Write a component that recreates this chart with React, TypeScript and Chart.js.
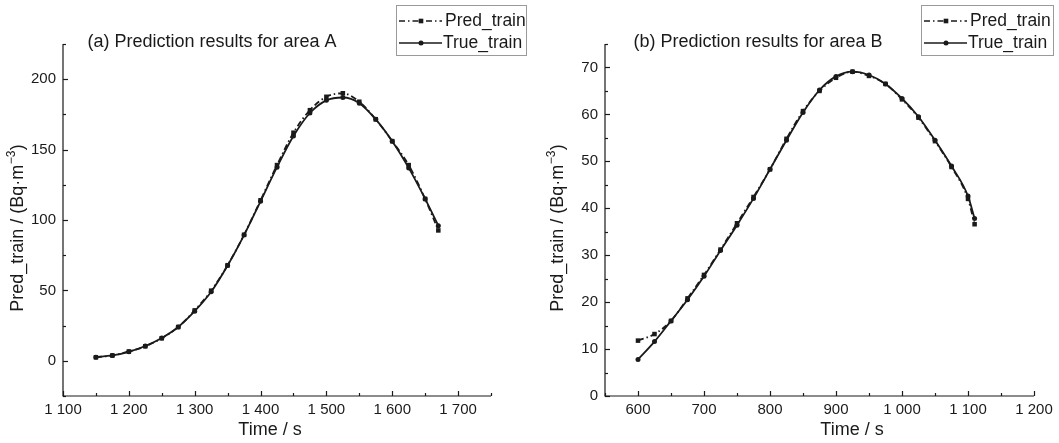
import React, { useEffect, useRef } from 'react';
import { Chart, registerables } from 'chart.js';

Chart.register(...registerables);

// ---------- data ----------
const timeA = [1150, 1175, 1200, 1225, 1250, 1275, 1300, 1325, 1350, 1375, 1400, 1425, 1450, 1475, 1500, 1525, 1550, 1575, 1600, 1625, 1650, 1670];
const predA = [2.5, 3.8, 6.6, 10.3, 16, 24, 35.8, 49.8, 67.9, 89.5, 114, 139, 162, 178, 187.5, 190, 184, 171.5, 156, 139, 115, 92.6];
const trueA = [2.6, 3.8, 6.4, 10.5, 16.2, 24, 35.2, 49, 67.7, 89.3, 113.3, 137.5, 159.6, 176, 185, 187, 183, 171.5, 156, 137, 115, 96];

const timeB = [600, 625, 650, 675, 700, 725, 750, 775, 800, 825, 850, 875, 900, 925, 950, 975, 1000, 1025, 1050, 1075, 1100, 1110];
const predB = [11.8, 13.2, 16, 20.8, 25.8, 31.2, 36.8, 42.4, 48.3, 54.8, 60.7, 65.0, 67.8, 69.1, 68.2, 66.5, 63.2, 59.3, 54.3, 48.8, 42, 36.6];
const trueB = [7.8, 11.6, 16, 20.5, 25.5, 31, 36.4, 42.1, 48.3, 54.5, 60.4, 65.2, 68.1, 69.1, 68.4, 66.5, 63.4, 59.5, 54.5, 49, 42.6, 37.8];

// tick labels
const xTicksA = [1100, 1200, 1300, 1400, 1500, 1600, 1700];
const yTicksA = [0, 50, 100, 150, 200];
const xTicksB = [600, 700, 800, 900, 1000, 1100, 1200];
const yTicksB = [0, 10, 20, 30, 40, 50, 60, 70];

const seriesNames = ['Pred_train', 'True_train'];
const titleA = '(a) Prediction results for area A';
const titleB = '(b) Prediction results for area B';
const xTitle = 'Time / s';
const yTitleMain = 'Pred_train / (Bq·m';
const yTitleSup = '−3';
const yTitleEnd = ')';

const FONT = '"Liberation Sans", Arial, Helvetica, sans-serif';
const INK = '#1a1a1a';

function fmt(v: number): string {
  const s = String(Math.round(v));
  return s.length > 3 ? s.slice(0, s.length - 3) + ' ' + s.slice(-3) : s;
}

function drawMarker(ctx: CanvasRenderingContext2D, kind: string, x: number, y: number) {
  ctx.fillStyle = INK;
  if (kind === 'rect') {
    ctx.fillRect(x - 2.3, y - 2.3, 4.6, 4.6);
  } else {
    ctx.beginPath();
    ctx.arc(x, y, 2.5, 0, Math.PI * 2);
    ctx.fill();
  }
}

const panelPlugin = {
  id: 'panel',
  afterDraw(chart: any, _args: any, o: any) {
    const ctx: CanvasRenderingContext2D = chart.ctx;
    const { left, right, top, bottom } = chart.chartArea;
    const xs = chart.scales.x;
    const ys = chart.scales.y;
    ctx.save();
    ctx.strokeStyle = INK;
    ctx.lineWidth = 1.2;
    ctx.setLineDash([]);
    // axis lines
    ctx.beginPath();
    ctx.moveTo(left, top);
    ctx.lineTo(left, bottom);
    ctx.lineTo(right, bottom);
    ctx.stroke();
    // inward ticks
    for (let v = xs.min; v <= xs.max + 1e-9; v += o.xMinor) {
      const px = Math.round(xs.getPixelForValue(v)) + 0.5;
      const major = Math.abs(v % o.xMajor) < 1e-6;
      const len = major ? 5 : 3;
      ctx.beginPath();
      ctx.moveTo(px, bottom);
      ctx.lineTo(px, bottom - len);
      ctx.stroke();
    }
    for (let v = ys.min; v <= ys.max + 1e-9; v += o.yMinor) {
      const py = Math.round(ys.getPixelForValue(v)) + 0.5;
      const major = Math.abs(v % o.yMajor) < 1e-6;
      const len = major ? 5 : 3;
      ctx.beginPath();
      ctx.moveTo(left, py);
      ctx.lineTo(left + len, py);
      ctx.stroke();
    }
    // title
    ctx.fillStyle = INK;
    ctx.font = `18px ${FONT}`;
    ctx.textAlign = 'center';
    ctx.textBaseline = 'middle';
    ctx.fillText(o.title, o.titleX, o.titleY);
    // x title
    ctx.fillText(xTitle, o.xTitleX, o.xTitleY);
    // y title (rotated, with superscript)
    ctx.save();
    ctx.translate(o.yTitleX, o.yTitleY);
    ctx.rotate(-Math.PI / 2);
    ctx.textAlign = 'left';
    ctx.font = `18px ${FONT}`;
    const w1 = ctx.measureText(yTitleMain).width;
    const w3 = ctx.measureText(yTitleEnd).width;
    ctx.font = `12px ${FONT}`;
    const w2 = ctx.measureText(yTitleSup).width;
    const total = w1 + w2 + w3 + 1;
    let cx = -total / 2;
    ctx.font = `18px ${FONT}`;
    ctx.fillText(yTitleMain, cx, 0);
    cx += w1 + 0.5;
    ctx.font = `12px ${FONT}`;
    ctx.fillText(yTitleSup, cx, -6);
    cx += w2 + 0.5;
    ctx.font = `18px ${FONT}`;
    ctx.fillText(yTitleEnd, cx, 0);
    ctx.restore();
    // legend
    const L = o.legend;
    ctx.strokeStyle = '#9a9a9a';
    ctx.lineWidth = 1;
    ctx.strokeRect(L.x + 0.5, L.y + 0.5, L.w, L.h);
    const rows = [L.y + 16, L.y + 38];
    const sx0 = L.x + 3;
    const sx1 = L.x + 46;
    const mx = L.x + 25;
    ctx.strokeStyle = INK;
    ctx.lineWidth = 1.6;
    // Pred row
    ctx.setLineDash([6, 3, 1.5, 3]);
    ctx.beginPath();
    ctx.moveTo(sx0, rows[0]);
    ctx.lineTo(sx1, rows[0]);
    ctx.stroke();
    ctx.setLineDash([]);
    drawMarker(ctx, 'rect', mx, rows[0]);
    // True row
    ctx.beginPath();
    ctx.moveTo(sx0, rows[1]);
    ctx.lineTo(sx1, rows[1]);
    ctx.stroke();
    drawMarker(ctx, 'circle', mx, rows[1]);
    ctx.fillStyle = INK;
    ctx.font = `17.5px ${FONT}`;
    ctx.textAlign = 'left';
    ctx.textBaseline = 'middle';
    ctx.fillText(seriesNames[0], L.x + 49, rows[0]);
    ctx.fillText(seriesNames[1], L.x + 47, rows[1]);
    ctx.restore();
  },
};

type PanelProps = {
  width: number;
  height: number;
  times: number[];
  pred: number[];
  truth: number[];
  xTicks: number[];
  yTicks: number[];
  xMin: number; xMax: number;
  yMin: number; yMax: number;
  padLeft: number; padRight: number; padTop: number; padBottom: number;
  plugin: any;
};

function Panel(p: PanelProps) {
  const ref = useRef<HTMLCanvasElement | null>(null);
  useEffect(() => {
    if (!ref.current) return;
    const mk = (vals: number[]) => p.times.map((t, i) => ({ x: t, y: vals[i] }));
    const chart = new Chart(ref.current, {
      type: 'line',
      data: {
        datasets: [
          {
            label: seriesNames[0],
            data: mk(p.pred),
            borderColor: INK,
            backgroundColor: INK,
            borderWidth: 1.8,
            borderDash: [6, 3, 1.5, 3],
            pointStyle: 'rect',
            pointRadius: 3.2,
            pointBorderWidth: 0,
            pointBackgroundColor: INK,
            cubicInterpolationMode: 'monotone',
            fill: false,
          },
          {
            label: seriesNames[1],
            data: mk(p.truth),
            borderColor: INK,
            backgroundColor: INK,
            borderWidth: 1.8,
            pointStyle: 'circle',
            pointRadius: 2.5,
            pointBorderWidth: 0,
            pointBackgroundColor: INK,
            cubicInterpolationMode: 'monotone',
            fill: false,
          },
        ],
      },
      options: {
        animation: false,
        responsive: false,
        devicePixelRatio: 1,
        events: [],
        layout: { padding: { left: 0, right: p.padRight, top: p.padTop, bottom: 0 } },
        plugins: {
          legend: { display: false },
          tooltip: { enabled: false },
          title: { display: false },
          panel: p.plugin,
        } as any,
        scales: {
          x: {
            type: 'linear',
            min: p.xMin,
            max: p.xMax,
            grid: { display: false, drawTicks: false },
            border: { display: false },
            afterBuildTicks: (s: any) => {
              s.ticks = p.xTicks.map((v) => ({ value: v }));
            },
            ticks: {
              autoSkip: false,
              maxRotation: 0,
              padding: 5,
              color: INK,
              font: { family: FONT, size: 15 },
              callback: (v: any) => fmt(Number(v)),
            },
            afterFit: (s: any) => {
              s.height = p.padBottom;
              s.paddingLeft = 0;
              s.paddingRight = 0;
            },
          },
          y: {
            type: 'linear',
            min: p.yMin,
            max: p.yMax,
            grid: { display: false, drawTicks: false },
            border: { display: false },
            afterBuildTicks: (s: any) => {
              s.ticks = p.yTicks.map((v) => ({ value: v }));
            },
            ticks: {
              autoSkip: false,
              padding: 7,
              color: INK,
              font: { family: FONT, size: 15 },
              callback: (v: any) => fmt(Number(v)),
            },
            afterFit: (s: any) => {
              s.width = p.padLeft;
              s.paddingTop = 0;
              s.paddingBottom = 0;
            },
          },
        },
      },
      plugins: [panelPlugin as any],
    });
    return () => chart.destroy();
  }, []);
  return <canvas ref={ref} width={p.width} height={p.height} style={{ display: 'block' }} />;
}

export default function App() {
  return (
    <div style={{ position: 'fixed', left: 0, top: 0, width: 1059, height: 443, background: '#fff' }}>
      <div style={{ position: 'absolute', left: 0, top: 0 }}>
        <Panel
          width={530}
          height={443}
          times={timeA}
          pred={predA}
          truth={trueA}
          xTicks={xTicksA}
          yTicks={yTicksA}
          xMin={1100} xMax={1750}
          yMin={-25} yMax={225}
          padLeft={63} padRight={39} padTop={44} padBottom={47}
          plugin={{
            title: titleA, titleX: 212, titleY: 42,
            xTitleX: 270, xTitleY: 430,
            yTitleX: 18, yTitleY: 228,
            xMajor: 100, xMinor: 50, yMajor: 50, yMinor: 25,
            legend: { x: 396, y: 5, w: 130, h: 50 },
          }}
        />
      </div>
      <div style={{ position: 'absolute', left: 530, top: 0 }}>
        <Panel
          width={529}
          height={443}
          times={timeB}
          pred={predB}
          truth={trueB}
          xTicks={xTicksB}
          yTicks={yTicksB}
          xMin={550} xMax={1200}
          yMin={0} yMax={75}
          padLeft={75} padRight={25} padTop={44} padBottom={47}
          plugin={{
            title: titleB, titleX: 228, titleY: 42,
            xTitleX: 322, xTitleY: 430,
            yTitleX: 28, yTitleY: 228,
            xMajor: 100, xMinor: 50, yMajor: 10, yMinor: 5,
            legend: { x: 391, y: 5, w: 132, h: 50 },
          }}
        />
      </div>
    </div>
  );
}
